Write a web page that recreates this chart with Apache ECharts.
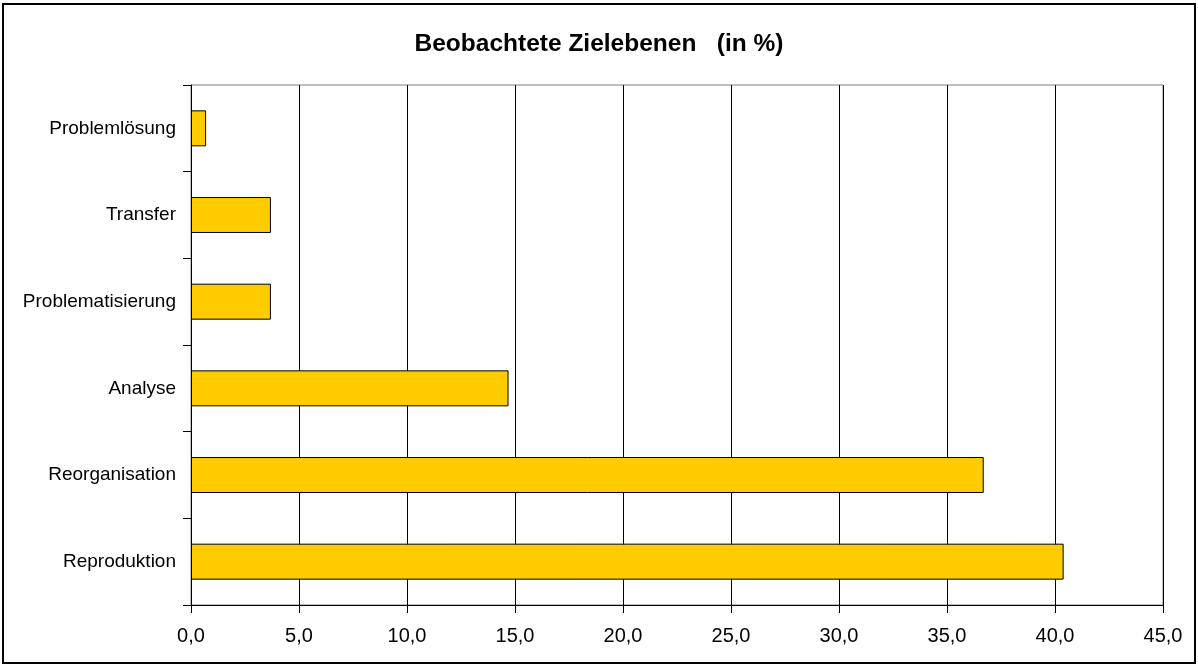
<!DOCTYPE html>
<html><head><meta charset="utf-8">
<script src="https://cdn.jsdelivr.net/npm/echarts@6/dist/echarts.min.js"></script>
<style>html,body{margin:0;padding:0;background:#fff}#c{width:1198px;height:666px}</style>
</head><body><div id="c"></div>
<script>
const categories = ['Reproduktion','Reorganisation','Analyse','Problematisierung','Transfer','Problemlösung'];
const values = [40.4, 36.7, 14.7, 3.7, 3.7, 0.7];
const xTicks = {min: 0, max: 45, interval: 5};

const chart = echarts.init(document.getElementById('c'));
chart.setOption({
  animation: false,
  backgroundColor: '#fff',
  title: {
    text: 'Beobachtete Zielebenen   (in %)',
    left: 'center', top: 27,
    textStyle: {fontFamily: 'Liberation Sans, Arial', fontSize: 24.5, fontWeight: 'bold', color: '#000'}
  },
  graphic: [{
    type: 'rect', shape: {x: 3, y: 4, width: 1192, height: 659},
    style: {fill: 'none', stroke: '#000', lineWidth: 2}, silent: true
  }],
  grid: {left: 191, right: 35, top: 85, bottom: 61, show: true, borderColor: '#808080', borderWidth: 1},
  xAxis: {
    type: 'value', min: xTicks.min, max: xTicks.max, interval: xTicks.interval,
    axisLine: {show: true, lineStyle: {color: '#000'}},
    axisTick: {show: true, length: 8, lineStyle: {color: '#000'}},
    axisLabel: {formatter: v => v.toFixed(1).replace('.', ','), fontFamily: 'Liberation Sans, Arial', fontSize: 20, color: '#000', margin: 21},
    splitLine: {show: true, lineStyle: {color: '#000', width: 1}}
  },
  yAxis: {
    type: 'category', data: categories,
    axisLine: {show: true, lineStyle: {color: '#000'}},
    axisTick: {show: true, length: 8, inside: false, lineStyle: {color: '#000'}},
    axisLabel: {fontFamily: 'Liberation Sans, Arial', fontSize: 19, color: '#000', margin: 15}
  },
  series: [{
    type: 'bar', data: values, barWidth: '41.5%',
    itemStyle: {color: '#FFCC00', borderColor: '#000', borderWidth: 1}
  }]
});
</script></body></html>
